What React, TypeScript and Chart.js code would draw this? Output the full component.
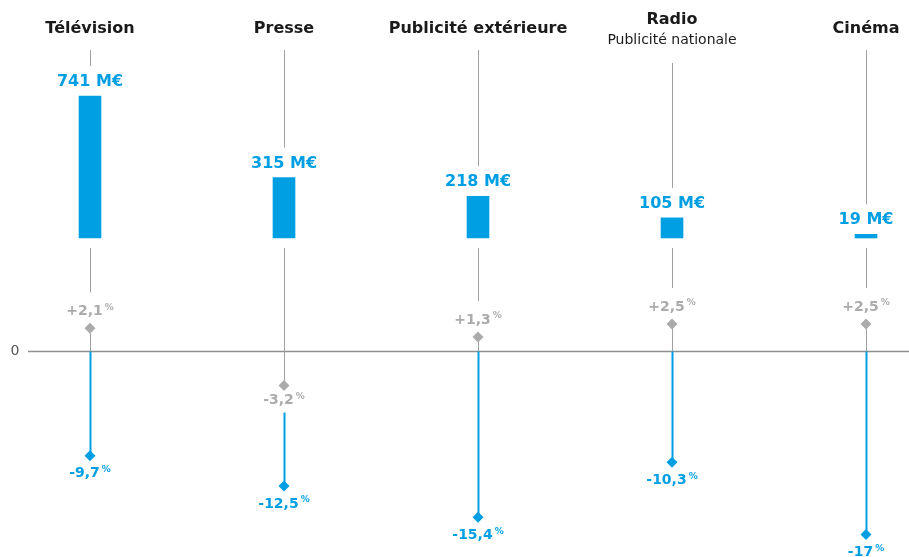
import React, { useEffect, useRef } from 'react';
import { Chart, registerables } from 'chart.js';

Chart.register(...registerables);

// ---- data ----
const categories = ['Télévision', 'Presse', 'Publicité extérieure', 'Radio', 'Cinéma'];
const subtitles = ['', '', '', 'Publicité nationale', ''];
const amounts = [741, 315, 218, 105, 19]; // M€
const change2019 = [2.1, -3.2, 1.3, 2.5, 2.5]; // %, grey markers
const change2020 = [-9.7, -12.5, -15.4, -10.3, -17]; // %, blue markers
const zeroLabel = '0';

// ---- style ----
const BLUE = '#009fe3';
const GRAY = '#ababab';
const LINE_GRAY = '#a0a0a0';
const FONT = '"DejaVu Sans", sans-serif';

function fmtPct(v: number): string {
  const a = Math.abs(v);
  const s = Number.isInteger(a) ? String(a) : a.toFixed(1).replace('.', ',');
  return (v > 0 ? '+' : '-') + s;
}

function fmtAmount(v: number): string {
  return `${v} M€`;
}

function vline(ctx: CanvasRenderingContext2D, x: number, y1: number, y2: number) {
  if (y2 <= y1) return;
  ctx.beginPath();
  ctx.moveTo(x, y1);
  ctx.lineTo(x, y2);
  ctx.stroke();
}

function pctLabel(ctx: CanvasRenderingContext2D, text: string, x: number, y: number, color: string) {
  ctx.save();
  ctx.fillStyle = color;
  ctx.textBaseline = 'middle';
  ctx.textAlign = 'left';
  ctx.font = `bold 14px ${FONT}`;
  const w1 = ctx.measureText(text).width;
  ctx.font = `bold 9px ${FONT}`;
  const w2 = ctx.measureText('%').width;
  const gap = 2;
  const start = x - (w1 + gap + w2) / 2;
  ctx.font = `bold 14px ${FONT}`;
  ctx.fillText(text, start, y);
  ctx.font = `bold 9px ${FONT}`;
  ctx.fillText('%', start + w1 + gap, y - 4);
  ctx.restore();
}

const overlay = {
  id: 'overlay',
  beforeDatasetsDraw(chart: any) {
    const { ctx, chartArea, scales } = chart;
    const xs = scales.x;
    const yp = scales.yPct;
    const ya = scales.yAmt;
    const z = Math.round(yp.getPixelForValue(0)) + 0.5;
    ctx.save();
    // zero line
    ctx.strokeStyle = '#8f8f8f';
    ctx.lineWidth = 1.3;
    ctx.beginPath();
    ctx.moveTo(chartArea.left, z);
    ctx.lineTo(chartArea.right, z);
    ctx.stroke();
    ctx.fillStyle = '#555';
    ctx.font = `14px ${FONT}`;
    ctx.textAlign = 'center';
    ctx.textBaseline = 'middle';
    ctx.fillText(zeroLabel, 15, z);

    categories.forEach((_, i) => {
      const x = Math.round(xs.getPixelForValue(i)) + 0.5;
      const barTop = ya.getPixelForValue(amounts[i]);
      const base = ya.getPixelForValue(0);
      const labelY = barTop - 14;
      const titleBottom = subtitles[i] ? 63 : 50;
      const g = yp.getPixelForValue(change2019[i]);
      const b = yp.getPixelForValue(change2020[i]);

      ctx.strokeStyle = LINE_GRAY;
      ctx.lineWidth = 1;
      // from title to value label
      vline(ctx, x, titleBottom, labelY - 16);
      if (change2019[i] >= 0) {
        vline(ctx, x, base + 10, g - 36);
        vline(ctx, x, g, z);
        ctx.strokeStyle = BLUE;
        ctx.lineWidth = 2;
        vline(ctx, x, z, b);
      } else {
        vline(ctx, x, base + 10, g);
        ctx.strokeStyle = BLUE;
        ctx.lineWidth = 2;
        vline(ctx, x, g + 27, b);
      }
    });
    ctx.restore();
  },
  afterDatasetsDraw(chart: any) {
    const { ctx, scales } = chart;
    const xs = scales.x;
    const yp = scales.yPct;
    const ya = scales.yAmt;
    ctx.save();
    categories.forEach((name, i) => {
      const x = xs.getPixelForValue(i);
      // titles
      ctx.fillStyle = '#1a1a1a';
      ctx.textAlign = 'center';
      ctx.textBaseline = 'middle';
      if (subtitles[i]) {
        ctx.font = `bold 16px ${FONT}`;
        ctx.fillText(name, x, 20);
        ctx.font = `14px ${FONT}`;
        ctx.fillText(subtitles[i], x, 40);
      } else {
        ctx.font = `bold 16px ${FONT}`;
        ctx.fillText(name, x, 29);
      }
      // amount label
      const barTop = ya.getPixelForValue(amounts[i]);
      ctx.fillStyle = BLUE;
      ctx.font = `bold 16px ${FONT}`;
      ctx.fillText(fmtAmount(amounts[i]), x, barTop - 14);
      // percent labels
      const g = yp.getPixelForValue(change2019[i]);
      const b = yp.getPixelForValue(change2020[i]);
      pctLabel(ctx, fmtPct(change2019[i]), x, change2019[i] >= 0 ? g - 17 : g + 15, GRAY);
      pctLabel(ctx, fmtPct(change2020[i]), x, b + 18, BLUE);
    });
    ctx.restore();
  },
};

export default function App() {
  const ref = useRef<HTMLCanvasElement | null>(null);
  useEffect(() => {
    if (!ref.current) return;
    const chart = new Chart(ref.current, {
      type: 'bar',
      data: {
        datasets: [
          {
            type: 'bar',
            data: amounts.map((v, i) => ({ x: i, y: v })),
            xAxisID: 'x',
            yAxisID: 'yAmt',
            backgroundColor: BLUE,
            borderWidth: 0,
            barThickness: 22,
          } as any,
          {
            type: 'scatter',
            data: change2019.map((v, i) => ({ x: i, y: v })),
            xAxisID: 'x',
            yAxisID: 'yPct',
            pointStyle: 'rectRot',
            pointRadius: 5.5,
            backgroundColor: GRAY,
            borderWidth: 0,
          } as any,
          {
            type: 'scatter',
            data: change2020.map((v, i) => ({ x: i, y: v })),
            xAxisID: 'x',
            yAxisID: 'yPct',
            pointStyle: 'rectRot',
            pointRadius: 5.5,
            backgroundColor: BLUE,
            borderWidth: 0,
          } as any,
        ],
      },
      options: {
        animation: false,
        responsive: false,
        events: [],
        layout: { autoPadding: false, padding: { left: 28, right: 0, top: 0, bottom: 0 } },
        plugins: { legend: { display: false }, tooltip: { enabled: false } },
        scales: {
          x: { type: 'linear', offset: false, grid: { offset: false }, min: -0.3196, max: 4.2216, display: false },
          yPct: { type: 'linear', position: 'left', min: -19.074, max: 32.5, display: false },
          yAmt: { type: 'linear', position: 'right', min: -1665, max: 1242, display: false },
        },
      } as any,
      plugins: [overlay],
    });
    return () => chart.destroy();
  }, []);
  return (
    <div style={{ position: 'absolute', left: 0, top: 0, width: 909, height: 557, background: '#fff' }}>
      <canvas ref={ref} width={909} height={557} style={{ display: 'block' }} />
    </div>
  );
}
